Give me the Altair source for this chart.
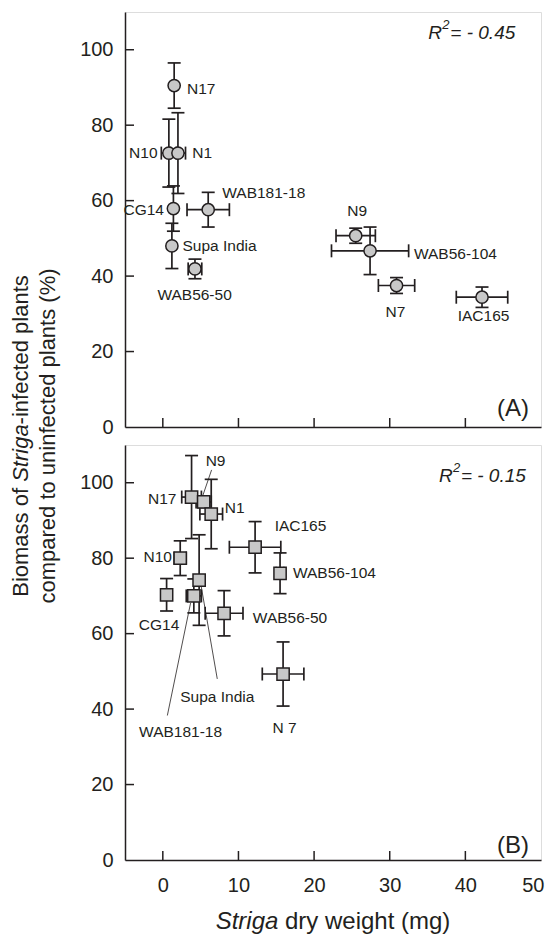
import altair as alt
import pandas as pd

FONT = "Liberation Sans"
INK = "#231f20"
FILL = "#c8c8c8"
W, H = 416, 415

# ---------------- Panel A data ----------------
a_names = ["N17", "N10", "N1", "CG14", "WAB181-18", "Supa India", "WAB56-50", "N9", "WAB56-104", "N7", "IAC165"]
a_x = [1.5, 0.8, 2.0, 1.4, 6.0, 1.2, 4.25, 25.5, 27.4, 30.9, 42.2]
a_y = [90.5, 72.6, 72.6, 57.9, 57.6, 48.0, 41.9, 50.7, 46.7, 37.5, 34.4]
a_xerr = [0, 1.0, 1.0, 0, 2.8, 0, 0.9, 2.6, 5.1, 2.4, 3.4]
a_yerr = [6, 9, 10.7, 6, 4.6, 6, 2.6, 2, 6.3, 2.1, 2.7]

a_lab_text = ["N17", "N10", "N1", "CG14", "WAB181-18", "Supa India", "WAB56-50", "N9", "WAB56-104", "N7", "IAC165"]
a_lab_x = [3.2, -0.7, 3.9, 0.15, 7.86, 2.6, 4.2, 25.7, 33.2, 30.75, 42.4]
a_lab_y = [89.6, 72.6, 72.6, 57.6, 62.0, 47.9, 35.1, 57.3, 45.8, 30.6, 29.3]
a_lab_align = ["left", "right", "left", "right", "left", "left", "center", "center", "left", "center", "center"]

# ---------------- Panel B data ----------------
b_names = ["N17", "N9", "N1", "IAC165", "WAB56-104", "N10", "CG14", "Supa India", "WAB181-18", "WAB56-50", "N 7"]
b_x = [3.8, 5.4, 6.4, 12.2, 15.5, 2.3, 0.5, 4.8, 4.1, 8.1, 15.9]
b_y = [96.2, 94.9, 91.7, 82.9, 76.0, 80.0, 70.3, 74.2, 70.0, 65.4, 49.3]
b_xerr = [1.3, 1.0, 1.5, 3.4, 0.5, 0.8, 0, 0, 1.0, 2.5, 2.75]
b_yerr = [11, 1.5, 9.2, 6.8, 5.4, 4.6, 4.3, 12, 4.5, 6, 8.5]

b_lab_text = ["N9", "N17", "N1", "IAC165", "WAB56-104", "N10", "CG14", "WAB56-50", "N 7", "Supa India", "WAB181-18"]
b_lab_x = [6.97, 1.8, 8.2, 18.2, 17.2, 1.2, -0.5, 11.9, 16.1, 7.2, 2.35]
b_lab_y = [105.8, 95.6, 93.4, 88.6, 76.0, 80.2, 62.3, 64.1, 35.0, 43.3, 33.8]
b_lab_align = ["center", "right", "left", "center", "left", "right", "center", "left", "center", "center", "center"]

# leader lines in panel B (label -> point)
b_line_x1 = [6.45, 0.6, 7.2]
b_line_y1 = [103.4, 38.3, 48.0]
b_line_x2 = [5.0, 3.67, 5.0]
b_line_y2 = [94.9, 68.1, 73.4]

# annotation values
r2_text = ["= - 0.45", "= - 0.15"]
r2_x = [35.1, 36.5]
r2_y = [104.4, 101.7]
tag_text = ["(A)", "(B)"]
tag_x = [46.3, 46.3]
tag_y = [4.7, 3.8]

x_ticks = [0, 10, 20, 30, 40, 50]
y_ticks = [0, 20, 40, 60, 80, 100]

xscale = alt.Scale(domain=[-5, 50], nice=False, zero=False)
yscale = alt.Scale(domain=[0, 110], nice=False, zero=False)


def xenc(field, show_labels):
    return alt.X(field, type="quantitative", scale=xscale,
                 axis=alt.Axis(values=x_ticks, ticks=False, tickSize=0, labels=show_labels,
                               labelPadding=15, labelFontSize=20, labelFont=FONT, labelColor=INK,
                               labelFlush=True, labelFlushOffset=3, labelOverlap=False,
                               domainColor=INK, domainWidth=1.5, grid=False, title=None))


def yenc(field):
    return alt.Y(field, type="quantitative", scale=yscale,
                 axis=alt.Axis(values=y_ticks, ticks=False, tickSize=0, labelPadding=12,
                               labelFontSize=20, labelFont=FONT, labelColor=INK,
                               labelFlush=False, labelOverlap=False,
                               domainColor=INK, domainWidth=1.5, grid=False, title=None))


def panel(names, xs, ys, xerr, yerr, lab_t, lab_x, lab_y, lab_a, shape, size, idx, show_x, lines=None):
    df = pd.DataFrame({"name": names, "x": xs, "y": ys, "xerr": xerr, "yerr": yerr})
    df["xlo"] = df["x"] - df["xerr"]
    df["xhi"] = df["x"] + df["xerr"]
    df["ylo"] = df["y"] - df["yerr"]
    df["yhi"] = df["y"] + df["yerr"]
    base = alt.Chart(df)
    layers = []

    # inward ticks
    ytk = alt.Chart(pd.DataFrame({"y": y_ticks[1:]})).mark_rule(color=INK, strokeWidth=1.5).encode(
        y=yenc("y"), x=alt.value(0), x2=alt.value(9))
    xtk = alt.Chart(pd.DataFrame({"x": x_ticks[:-1]})).mark_rule(color=INK, strokeWidth=1.5).encode(
        x=xenc("x", show_x), y=alt.value(H), y2=alt.value(H - 9))
    layers += [ytk, xtk]

    if lines is not None:
        ldf = pd.DataFrame({"x": lines[0], "y": lines[1], "x2": lines[2], "y2": lines[3]})
        layers.append(alt.Chart(ldf).mark_rule(color=INK, strokeWidth=0.8).encode(
            x=xenc("x", show_x), y=yenc("y"), x2="x2:Q", y2="y2:Q"))

    ew = 1.7
    cap = 13
    layers.append(base.mark_rule(color=INK, strokeWidth=ew).encode(
        x=xenc("x", show_x), y=yenc("ylo"), y2="yhi:Q"))
    layers.append(base.mark_tick(orient="horizontal", color=INK, size=cap, thickness=ew, opacity=1).encode(
        x=xenc("x", show_x), y=yenc("ylo")))
    layers.append(base.mark_tick(orient="horizontal", color=INK, size=cap, thickness=ew, opacity=1).encode(
        x=xenc("x", show_x), y=yenc("yhi")))
    xe = base.transform_filter("datum.xerr > 0")
    layers.append(xe.mark_rule(color=INK, strokeWidth=ew).encode(
        y=yenc("y"), x=xenc("xlo", show_x), x2="xhi:Q"))
    layers.append(xe.mark_tick(orient="vertical", color=INK, size=cap, thickness=ew, opacity=1).encode(
        y=yenc("y"), x=xenc("xlo", show_x)))
    layers.append(xe.mark_tick(orient="vertical", color=INK, size=cap, thickness=ew, opacity=1).encode(
        y=yenc("y"), x=xenc("xhi", show_x)))

    layers.append(base.mark_point(shape=shape, filled=True, color=FILL, stroke=INK, strokeWidth=1.5,
                                  size=size, opacity=1).encode(x=xenc("x", show_x), y=yenc("y")))

    labdf = pd.DataFrame({"t": lab_t, "x": lab_x, "y": lab_y, "a": lab_a})
    for al in ["left", "right", "center"]:
        layers.append(alt.Chart(labdf).transform_filter(alt.datum.a == al).mark_text(
            align=al, baseline="middle", font=FONT, fontSize=15.5, color=INK).encode(
            x=xenc("x", show_x), y=yenc("y"), text="t:N"))

    # R^2 annotation
    rdf = pd.DataFrame({"x": [r2_x[idx]], "y": [r2_y[idx]], "r": ["R"], "s": ["2"], "v": [r2_text[idx]]})
    rc = alt.Chart(rdf)
    layers.append(rc.mark_text(align="left", baseline="middle", font=FONT, fontSize=19, fontStyle="italic",
                               color=INK).encode(x=xenc("x", show_x), y=yenc("y"), text="r:N"))
    layers.append(rc.mark_text(align="left", baseline="middle", font=FONT, fontSize=13, fontStyle="italic",
                               color=INK, dx=14, dy=-8).encode(x=xenc("x", show_x), y=yenc("y"), text="s:N"))
    layers.append(rc.mark_text(align="left", baseline="middle", font=FONT, fontSize=19, fontStyle="italic",
                               color=INK, dx=22).encode(x=xenc("x", show_x), y=yenc("y"), text="v:N"))

    tdf = pd.DataFrame({"x": [tag_x[idx]], "y": [tag_y[idx]], "t": [tag_text[idx]]})
    layers.append(alt.Chart(tdf).mark_text(align="center", baseline="middle", font=FONT, fontSize=24,
                                           color=INK).encode(x=xenc("x", show_x), y=yenc("y"), text="t:N"))
    return layers


# axis titles with italic "Striga" (pixel layout relative to plot areas)
TFS = 22
EM = TFS
gap_total = H * 2 + 18
ycenter = gap_total / 2.0
seg1, seg2, seg3 = "Biomass of", "Striga", "-infected plants"
w1 = 5.224 * EM   # "Biomass of " incl. trailing space
w2 = 2.612 * EM   # "Striga"
w3 = 6.781 * EM
start = ycenter + (w1 + w2 + w3) / 2.0
ytitle_df = pd.DataFrame({"t": [seg1, seg2, seg3], "pos": [start, start - w1, start - w1 - w2],
                          "st": ["normal", "italic", "normal"]})
ytitle_layers = []
for st in ["normal", "italic"]:
    sub = ytitle_df[ytitle_df.st == st]
    for _, r in sub.iterrows():
        ytitle_layers.append(alt.Chart(pd.DataFrame({"t": [r.t]})).mark_text(
            align="left", baseline="middle", angle=270, font=FONT, fontSize=TFS, fontStyle=st,
            color=INK).encode(text="t:N", x=alt.value(-104), y=alt.value(float(r.pos))))
ytitle_layers.append(alt.Chart(pd.DataFrame({"t": ["compared to uninfected plants (%)"]})).mark_text(
    align="center", baseline="middle", angle=270, font=FONT, fontSize=TFS, color=INK).encode(
    text="t:N", x=alt.value(-77), y=alt.value(ycenter)))

XFS = 24
xs1 = 2.612 * XFS
xs2 = 0.278 * XFS
xs3 = 7.169 * XFS - xs2
xstart = W / 2.0 - (xs1 + xs2 + xs3) / 2.0
XT_Y = H + 62
xtitle_layers = [
    alt.Chart(pd.DataFrame({"t": ["Striga"]})).mark_text(
        align="left", baseline="middle", font=FONT, fontSize=XFS, fontStyle="italic", color=INK).encode(
        text="t:N", x=alt.value(xstart), y=alt.value(XT_Y)),
    alt.Chart(pd.DataFrame({"t": ["dry weight (mg)"]})).mark_text(
        align="left", baseline="middle", font=FONT, fontSize=XFS, color=INK).encode(
        text="t:N", x=alt.value(xstart + xs1 + xs2), y=alt.value(XT_Y)),
]

layersA = panel(a_names, a_x, a_y, a_xerr, a_yerr, a_lab_text, a_lab_x, a_lab_y, a_lab_align,
                "circle", 150, 0, False)
layersB = panel(b_names, b_x, b_y, b_xerr, b_yerr, b_lab_text, b_lab_x, b_lab_y, b_lab_align,
                "square", 150, 1, True, lines=(b_line_x1, b_line_y1, b_line_x2, b_line_y2))

chartA = alt.layer(*(layersA + ytitle_layers)).properties(width=W, height=H)
chartB = alt.layer(*(layersB + xtitle_layers)).properties(width=W, height=H)

chart = alt.vconcat(chartA, chartB, spacing=18, bounds="flush").properties(
    padding={"left": 1, "top": 3, "right": 0, "bottom": 0}
).configure_view(stroke=INK, strokeWidth=1.5).configure(background="white")

chart.save("out.html", embed_options={"renderer": "svg", "actions": False})
